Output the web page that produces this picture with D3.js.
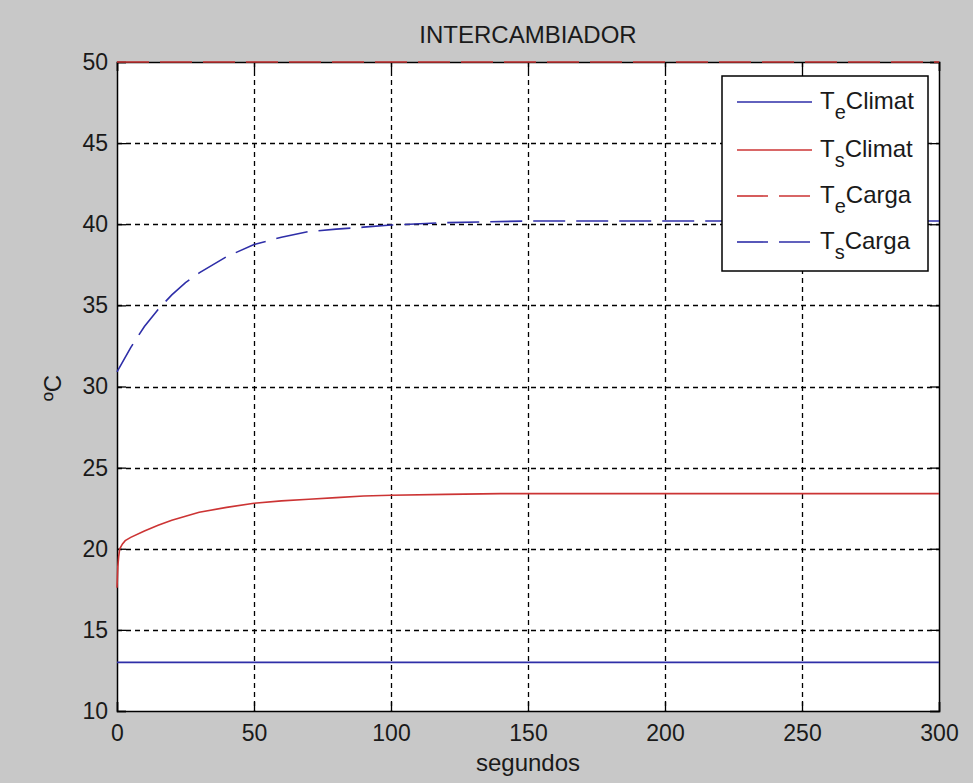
<!DOCTYPE html>
<html>
<head>
<meta charset="utf-8">
<script src="https://cdn.jsdelivr.net/npm/d3@7"></script>
<style>
  body { margin: 0; background: #c8c8c8; }
  text { font-family: "Liberation Sans", Arial, sans-serif; fill: #1a1a1a; }
</style>
</head>
<body>
<div id="chart"></div>
<script>
// data
var tEnds = [0, 300];
var teClimat = [13, 13];
var teCarga = [50, 50];

var tCarga = [0, 5, 10, 15, 20, 25, 30, 40, 50, 60, 70, 80, 90, 100, 120, 150, 200, 250, 300];
var tsCarga = [30.9, 32.4, 33.7, 34.75, 35.65, 36.4, 37.0, 38.0, 38.75, 39.2, 39.55, 39.7, 39.82, 39.95, 40.1, 40.2, 40.2, 40.2, 40.2];

var tClimat = [0, 0.3, 0.6, 1, 2, 3, 5, 10, 15, 20, 25, 30, 40, 50, 60, 70, 80, 90, 100, 120, 140, 200, 300];
var tsClimat = [17.6, 18.9, 19.5, 20.0, 20.3, 20.5, 20.7, 21.1, 21.45, 21.75, 22.0, 22.25, 22.55, 22.8, 22.95, 23.05, 23.15, 23.25, 23.3, 23.35, 23.4, 23.4, 23.4];

var xTicks = [0, 50, 100, 150, 200, 250, 300];
var yTicks = [10, 15, 20, 25, 30, 35, 40, 45, 50];

var legendNames = ["Climat", "Climat", "Carga", "Carga"];
var legendSubs = ["e", "s", "e", "s"];

var blue = "#2e2ea8", red = "#cc3434";

var W = 973, H = 783;
var margin = { top: 62, right: 34, bottom: 72, left: 117 },
  width = W - margin.left - margin.right,
  height = H - margin.top - margin.bottom;

var svg = d3.select("#chart").append("svg")
  .attr("width", W)
  .attr("height", H);

svg.append("rect").attr("width", W).attr("height", H).attr("fill", "#c8c8c8");

var g = svg.append("g").attr("transform", "translate(" + margin.left + "," + margin.top + ")");

var x = d3.scaleLinear().domain([0, 300]).range([0, width]);
var y = d3.scaleLinear().domain([10, 50]).range([height, 0]);

g.append("rect").attr("width", width).attr("height", height).attr("fill", "#fff");

// grid
g.append("g").selectAll("line").data(xTicks.slice(1, -1)).enter().append("line")
  .attr("x1", function (d) { return Math.round(x(d)) + 0.5; }).attr("x2", function (d) { return Math.round(x(d)) + 0.5; })
  .attr("y1", 0).attr("y2", height)
  .attr("stroke", "#000").attr("stroke-width", 1.3).attr("stroke-dasharray", "5,4");
g.append("g").selectAll("line").data(yTicks.slice(1, -1)).enter().append("line")
  .attr("y1", function (d) { return Math.round(y(d)) + 0.5; }).attr("y2", function (d) { return Math.round(y(d)) + 0.5; })
  .attr("x1", 0).attr("x2", width)
  .attr("stroke", "#000").attr("stroke-width", 1.3).attr("stroke-dasharray", "5,4");

// axes, MATLAB style ticks inward on all four sides
var fs = "23px";
var xAxis = g.append("g").attr("transform", "translate(0," + height + ")")
  .call(d3.axisBottom(x).tickValues(xTicks).tickSize(-9).tickPadding(14));
var yAxis = g.append("g")
  .call(d3.axisLeft(y).tickValues(yTicks).tickSize(-9).tickPadding(9));
var xTop = g.append("g")
  .call(d3.axisTop(x).tickValues(xTicks).tickSize(-9).tickFormat(""));
var yRight = g.append("g").attr("transform", "translate(" + width + ",0)")
  .call(d3.axisRight(y).tickValues(yTicks).tickSize(-9).tickFormat(""));

[xAxis, yAxis, xTop, yRight].forEach(function (a) {
  a.select(".domain").attr("stroke", "#000").attr("stroke-width", 1.5);
  a.selectAll(".tick line").attr("stroke", "#000").attr("stroke-width", 1.3);
  a.selectAll("text").style("font-size", fs).style("font-family", "Liberation Sans, Arial").attr("fill", "#1a1a1a");
});

// lines
var line = d3.line()
  .x(function (d) { return x(d[0]); })
  .y(function (d) { return y(d[1]); });

function pairs(ts, vs) {
  return ts.map(function (t, i) { return [t, vs[i]]; });
}

var series = [
  { data: pairs(tEnds, teClimat), color: blue, dash: null },
  { data: pairs(tClimat, tsClimat), color: red, dash: null },
  { data: pairs(tEnds, teCarga), color: red, dash: "32,11" },
  { data: pairs(tCarga, tsCarga), color: blue, dash: "32,11" }
];

series.forEach(function (s) {
  g.append("path")
    .datum(s.data)
    .attr("d", line)
    .attr("fill", "none")
    .attr("stroke", s.color)
    .attr("stroke-width", 1.6)
    .attr("stroke-dasharray", s.dash);
});

// title and labels
svg.append("text")
  .attr("x", margin.left + width / 2).attr("y", 43)
  .attr("text-anchor", "middle").style("font-size", "24px")
  .text("INTERCAMBIADOR");

svg.append("text")
  .attr("x", margin.left + width / 2).attr("y", 771)
  .attr("text-anchor", "middle").style("font-size", "24px")
  .text("segundos");

svg.append("text")
  .attr("transform", "translate(61,388) rotate(-90)")
  .attr("text-anchor", "middle").style("font-size", "24px")
  .text("ºC");

// legend
var lx = 722, ly = 76, lw = 206, lh = 195;
var leg = svg.append("g");
leg.append("rect")
  .attr("x", lx).attr("y", ly).attr("width", lw).attr("height", lh)
  .attr("fill", "#fff").attr("stroke", "#000").attr("stroke-width", 1.5);

var rowY = [102, 150, 196, 242];
series.forEach(function (s, i) {
  leg.append("line")
    .attr("x1", 737).attr("x2", 812)
    .attr("y1", rowY[i]).attr("y2", rowY[i])
    .attr("stroke", s.color).attr("stroke-width", 1.6)
    .attr("stroke-dasharray", s.dash ? "31,11" : null);
  var t = leg.append("text")
    .attr("x", 820).attr("y", rowY[i] + 7)
    .style("font-size", "24px");
  t.append("tspan").text("T");
  t.append("tspan").attr("dy", 10).style("font-size", "20px").text(legendSubs[i]);
  t.append("tspan").attr("dy", -10).text(legendNames[i]);
});
</script>
</body>
</html>
